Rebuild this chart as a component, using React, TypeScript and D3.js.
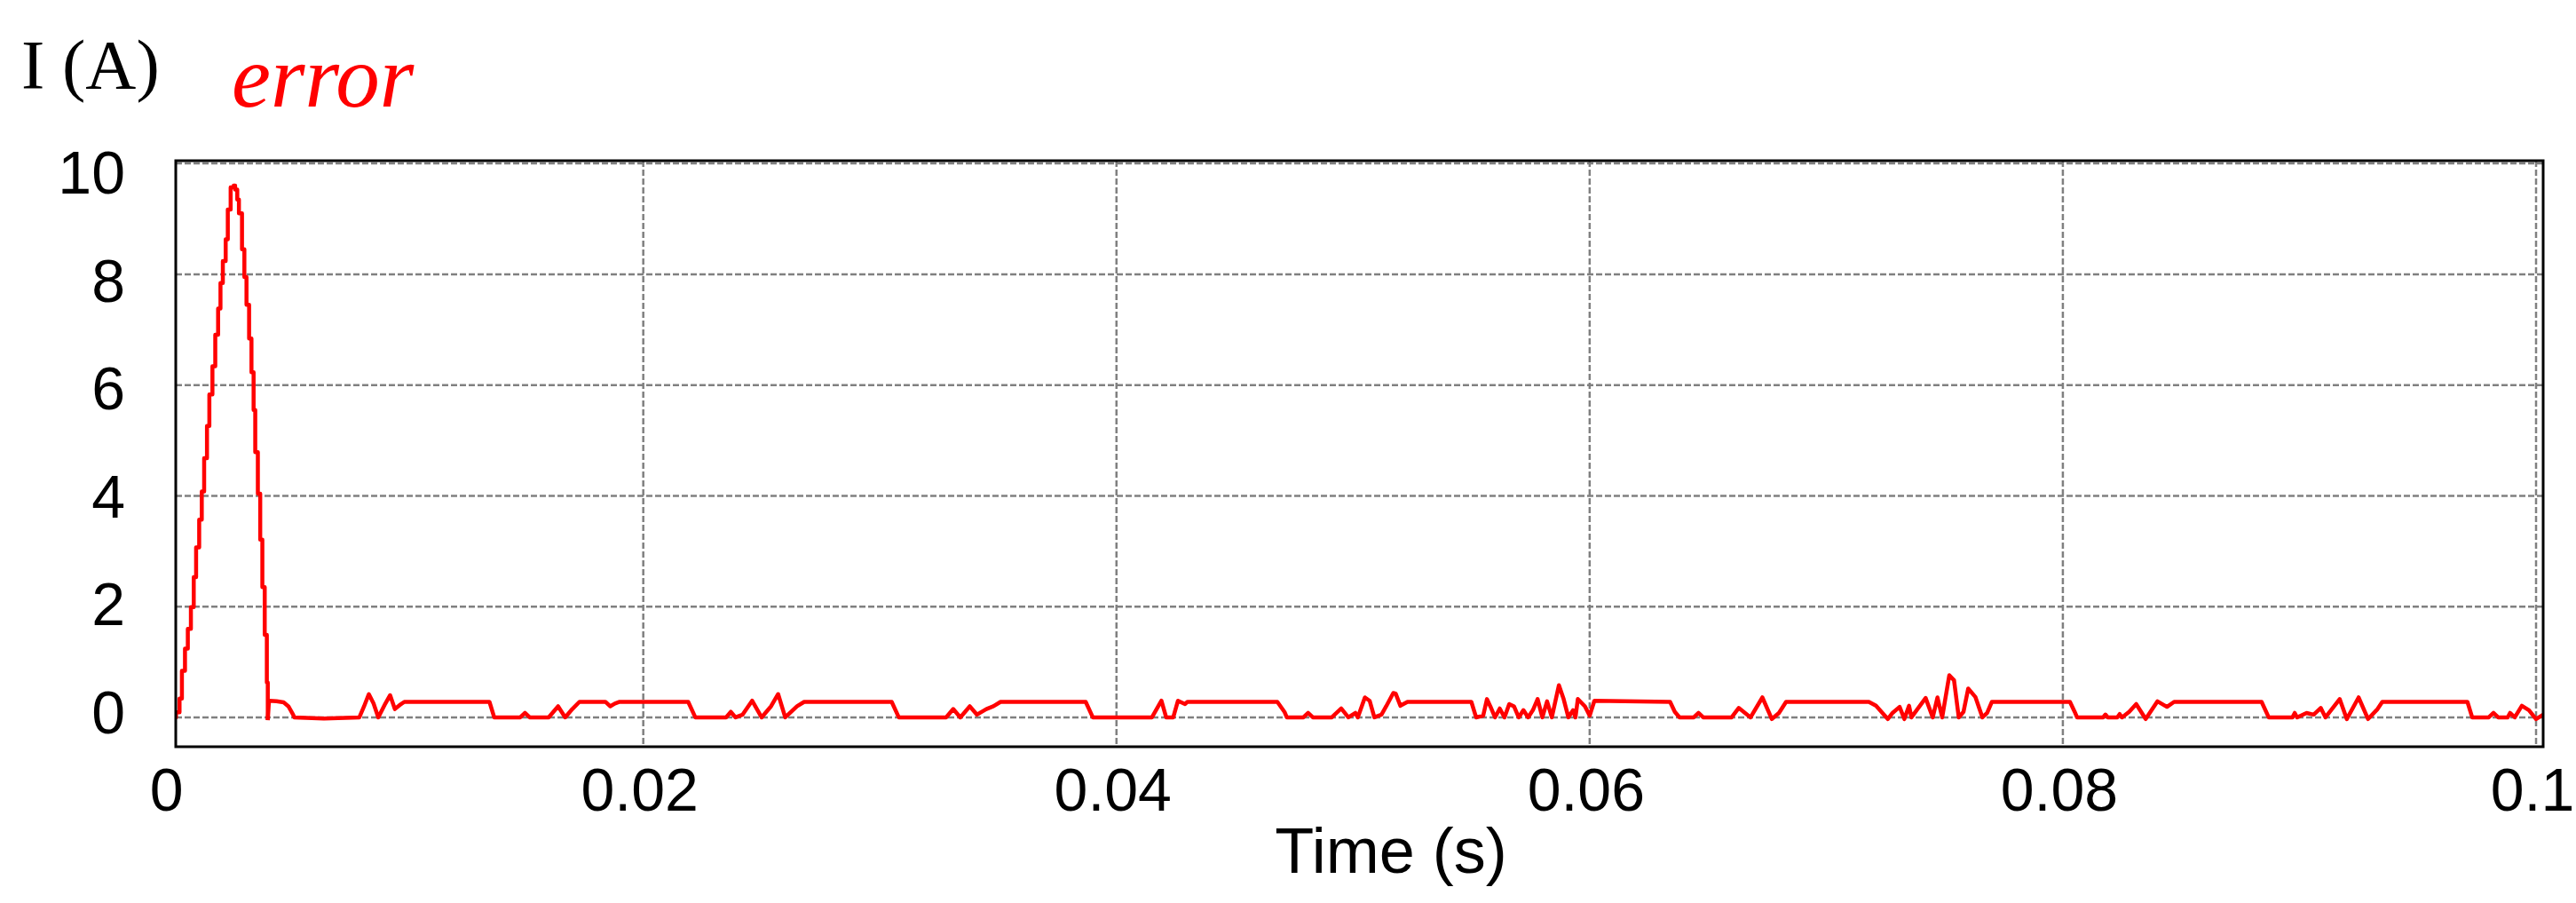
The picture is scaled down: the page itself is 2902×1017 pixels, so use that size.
import React from "react";
import * as d3 from "d3";

// tick values and their printed labels
const xTicks = [0, 0.02, 0.04, 0.06, 0.08, 0.1];
const xTickLabels = ["0", "0.02", "0.04", "0.06", "0.08", "0.1"];
const yTicks = [0, 2, 4, 6, 8, 10];
const yTickLabels = ["0", "2", "4", "6", "8", "10"];

// start-up transient (sampled, drawn as steps)
const peakTime = [
  0, 0.00025, 0.0004, 0.0005, 0.00063, 0.00075, 0.00088, 0.001, 0.0011,
  0.00123, 0.00134, 0.00144, 0.00156, 0.00166, 0.00179, 0.00191, 0.00203,
  0.00213, 0.00223, 0.00235, 0.00244, 0.00256, 0.00269, 0.00275, 0.00284,
  0.00291, 0.00304, 0.00314, 0.00323, 0.00334, 0.00344, 0.00353, 0.0036,
  0.00371, 0.00381, 0.0039, 0.004, 0.00409, 0.00413,
];
const peakCurrent = [
  0, 0.09, 0.34, 0.84, 1.24, 1.6, 1.99, 2.53, 3.07, 3.57, 4.08, 4.68, 5.26,
  5.83, 6.34, 6.91, 7.38, 7.84, 8.24, 8.63, 9.17, 9.57, 9.6, 9.53, 9.35, 9.1,
  8.45, 7.95, 7.45, 6.84, 6.23, 5.55, 4.79, 4.04, 3.21, 2.35, 1.49, 0.63,
  -0.05,
];

// steady-state ripple after the transient
const tailTime = [
  0.00413, 0.00418, 0.0045, 0.0048, 0.005, 0.0052, 0.00525, 0.0065, 0.008,
  0.0082, 0.0084, 0.0086, 0.0088, 0.0091, 0.0093, 0.0095, 0.0097, 0.0099,
  0.0135, 0.0137, 0.0148, 0.015, 0.0152, 0.016, 0.0164, 0.0167, 0.017, 0.0173,
  0.0184, 0.0186, 0.0188, 0.019, 0.0219, 0.0222, 0.0235, 0.0237, 0.0239,
  0.0242, 0.0246, 0.025, 0.0254, 0.0257, 0.026, 0.0265, 0.0268, 0.0305,
  0.0308, 0.0328, 0.0331, 0.0334, 0.0338, 0.0341, 0.0345, 0.0348, 0.0351,
  0.0387, 0.039, 0.041, 0.0415, 0.0419, 0.0421, 0.0424, 0.0426, 0.0429, 0.043,
  0.0468, 0.0471, 0.0472, 0.0479, 0.0481, 0.0483, 0.0491, 0.0495, 0.0498,
  0.0501, 0.0502, 0.0505, 0.0507, 0.0509, 0.0512, 0.0514, 0.0517, 0.0518,
  0.052, 0.0523, 0.055, 0.0552, 0.0555, 0.05566, 0.0558, 0.056, 0.0562,
  0.0564, 0.0566, 0.0568, 0.057, 0.0572, 0.0574, 0.0576, 0.0578, 0.058,
  0.0582, 0.0584, 0.0587, 0.0589, 0.0591, 0.0593, 0.0594, 0.0595, 0.0598,
  0.06, 0.0602, 0.0634, 0.0636, 0.0638, 0.0644, 0.0646, 0.0648, 0.066, 0.0663,
  0.0668, 0.0673, 0.0677, 0.068, 0.0683, 0.0718, 0.0721, 0.0726, 0.0728,
  0.0731, 0.0733, 0.0735, 0.0736, 0.0742, 0.0745, 0.0747, 0.0749, 0.0752,
  0.0754, 0.0756, 0.0758, 0.076, 0.0763, 0.0766, 0.0768, 0.077, 0.0803,
  0.0805, 0.0806, 0.0817, 0.0818, 0.0819, 0.0823, 0.0824, 0.0825, 0.0828,
  0.0831, 0.0835, 0.084, 0.0844, 0.0847, 0.0884, 0.0887, 0.0897, 0.0898,
  0.0899, 0.0903, 0.0906, 0.0909, 0.0911, 0.0917, 0.092, 0.0925, 0.0929,
  0.0933, 0.0935, 0.0971, 0.0973, 0.098, 0.0982, 0.0984, 0.0988, 0.0989,
  0.0991, 0.0994, 0.0997, 0.1, 0.1003,
];
const tailCurrent = [
  -0.05, 0.3, 0.29, 0.27, 0.2, 0.05, 0, -0.02, 0, 0.2, 0.42, 0.25, 0, 0.25,
  0.4, 0.15, 0.22, 0.28, 0.28, 0, 0, 0.08, 0, 0, 0.2, 0, 0.15, 0.28, 0.28,
  0.2, 0.25, 0.28, 0.28, 0, 0, 0.1, 0, 0.05, 0.3, 0, 0.2, 0.42, 0, 0.2, 0.28,
  0.28, 0, 0, 0.15, 0, 0.2, 0.05, 0.15, 0.2, 0.28, 0.28, 0, 0, 0, 0.3, 0, 0,
  0.3, 0.24, 0.28, 0.28, 0.1, 0, 0, 0.08, 0, 0, 0.16, 0, 0.08, 0, 0.36, 0.3,
  0, 0.05, 0.2, 0.44, 0.43, 0.21, 0.28, 0.28, 0, 0.03, 0.33, 0.2, 0, 0.16, 0,
  0.24, 0.2, 0, 0.13, 0, 0.13, 0.33, 0, 0.29, 0, 0.58, 0.33, 0, 0.13, 0, 0.33,
  0.2, 0.03, 0.3, 0.28, 0.1, 0, 0, 0.08, 0, 0, 0.17, 0, 0.36, -0.03, 0.08,
  0.28, 0.28, 0.21, -0.03, 0.08, 0.19, -0.03, 0.21, 0, 0.35, 0, 0.36, 0, 0.76,
  0.67, 0, 0.1, 0.52, 0.37, 0, 0.08, 0.28, 0.28, 0.1, 0, 0, 0.05, 0, 0, 0.06,
  0, 0.1, 0.24, -0.03, 0.29, 0.19, 0.28, 0.28, 0, 0, 0.08, 0, 0.08, 0.05,
  0.17, 0, 0.33, -0.03, 0.36, -0.03, 0.15, 0.28, 0.28, 0, 0, 0.08, 0, 0, 0.08,
  0, 0.21, 0.13, -0.03, 0.05,
];

const W = 2902;
const H = 1017;
const plot = { left: 198, right: 2865, top: 181, bottom: 841 };

const App = () => {
  const x = d3
    .scaleLinear()
    .domain([0.00024, 0.1003])
    .range([plot.left, plot.right]);
  const y = d3
    .scaleLinear()
    .domain([-0.53, 10.05])
    .range([plot.bottom, plot.top]);
  // y tick labels sit on a slightly tighter spacing than the grid
  const yLabel = d3.scaleLinear().domain([0, 10]).range([801.5, 193.5]);

  const peakLine = d3
    .line<number>()
    .x((d, i) => x(peakTime[i]))
    .y((d) => y(d))
    .curve(d3.curveStepAfter);
  const tailLine = d3
    .line<number>()
    .x((d, i) => x(tailTime[i]))
    .y((d) => y(d));

  const grid = "#808080";
  const sans = "'Liberation Sans', Arial, sans-serif";
  const serif = "'Liberation Serif', 'Times New Roman', serif";

  return (
    <svg
      width={W}
      height={H}
      style={{ position: "absolute", left: 0, top: 0, display: "block", background: "#fff" }}
    >
      <defs>
        <clipPath id="plotClip">
          <rect
            x={plot.left}
            y={plot.top}
            width={plot.right - plot.left}
            height={plot.bottom - plot.top}
          />
        </clipPath>
      </defs>

      {/* grid */}
      <g stroke={grid} strokeWidth={2.5} strokeDasharray="7 3" fill="none">
        {yTicks.map((t) => (
          <line key={"gy" + t} x1={plot.left} x2={plot.right} y1={y(t)} y2={y(t)} />
        ))}
        {xTicks
          .filter((t) => x(t) > plot.left + 2)
          .map((t) => (
            <line key={"gx" + t} x1={x(t)} x2={x(t)} y1={plot.top} y2={plot.bottom} />
          ))}
      </g>

      {/* trace */}
      <g clipPath="url(#plotClip)" fill="none" stroke="#ff0000" strokeWidth={4.5} strokeLinejoin="round">
        <path d={peakLine(peakCurrent) || ""} />
        <path d={tailLine(tailCurrent) || ""} />
      </g>

      {/* frame */}
      <rect
        x={plot.left}
        y={plot.top}
        width={plot.right - plot.left}
        height={plot.bottom - plot.top}
        fill="none"
        stroke="#000"
        strokeWidth={3}
      />

      {/* y tick labels */}
      <g fontFamily={sans} fontSize={68} fill="#000" textAnchor="end">
        {yTicks.map((t, i) => (
          <text key={"yl" + t} x={141} y={yLabel(t) + 24.5}>
            {yTickLabels[i]}
          </text>
        ))}
      </g>

      {/* x tick labels */}
      <g fontFamily={sans} fontSize={68} fill="#000" textAnchor="middle">
        {xTicks.map((t, i) => (
          <text key={"xl" + t} x={x(t) - 4} y={913}>
            {xTickLabels[i]}
          </text>
        ))}
      </g>

      <text x={1567} y={983} fontFamily={sans} fontSize={72} textAnchor="middle" fill="#000">
        Time (s)
      </text>

      <text x={24} y={99} fontFamily={serif} fontSize={79} fill="#000">
        I (A)
      </text>
      <text x={261} y={120} fontFamily={serif} fontStyle="italic" fontSize={99} fill="#ff0000">
        error
      </text>
    </svg>
  );
};

export default App;
